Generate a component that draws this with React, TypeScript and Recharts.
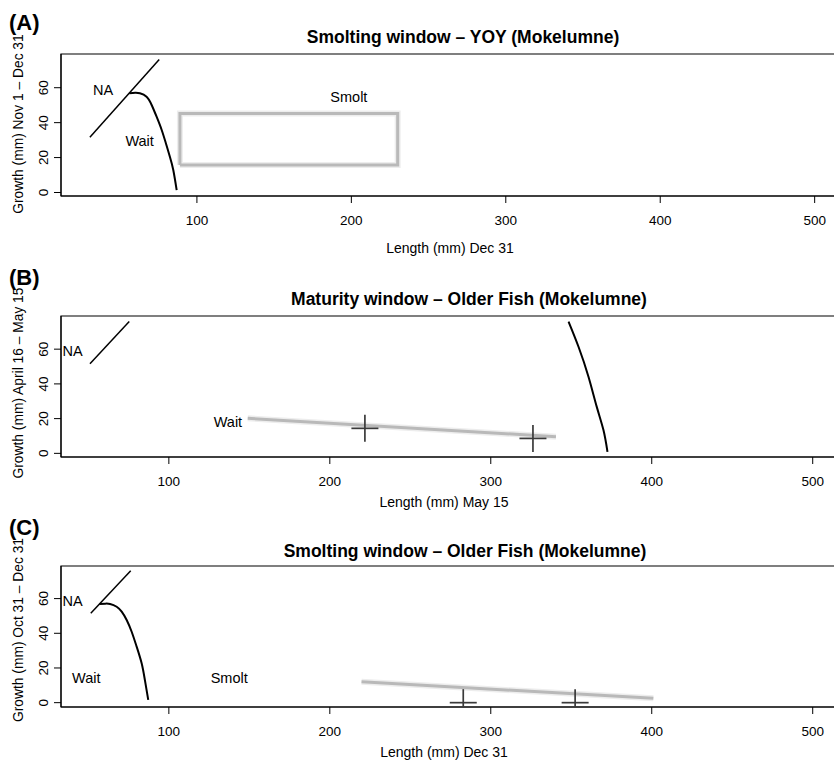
import { ComposedChart, Scatter, XAxis, YAxis, ReferenceArea } from 'recharts'

const FONT = '"Liberation Sans", Arial, Helvetica, sans-serif'

const xTicks = [100, 200, 300, 400, 500]
const yTicks = [0, 20, 40, 60]

// (A) Smolting window - YOY
const naLineA = [
  { x: 30.7, y: 31.6 },
  { x: 75.6, y: 76.2 },
]
const waitCurveA = [
  { x: 56.2, y: 56.8 },
  { x: 60, y: 57.1 },
  { x: 63.1, y: 56.8 },
  { x: 67.4, y: 54.8 },
  { x: 70.7, y: 50.1 },
  { x: 73.9, y: 43.4 },
  { x: 77.2, y: 35.8 },
  { x: 79.9, y: 28.2 },
  { x: 82.5, y: 20.5 },
  { x: 84.7, y: 12.9 },
  { x: 86.9, y: 1.4 },
]
const smoltBoxA = [
  { x: 89, y: 15.7 },
  { x: 230, y: 15.7 },
  { x: 230, y: 45.3 },
  { x: 89, y: 45.3 },
  { x: 89, y: 15.7 },
]
const labelsA = [
  { x: 39.2, y: 58.8, text: 'NA' },
  { x: 62.9, y: 29.5, text: 'Wait' },
  { x: 198.4, y: 54.4, text: 'Smolt' },
]

// (B) Maturity window - older fish
const naLineB = [
  { x: 51, y: 51.6 },
  { x: 75.4, y: 75.9 },
]
const maturityCurveB = [
  { x: 348.3, y: 75.9 },
  { x: 354.5, y: 61.4 },
  { x: 360.7, y: 44.1 },
  { x: 365.8, y: 26.9 },
  { x: 370, y: 13.4 },
  { x: 372.5, y: 0.9 },
]
const waitLineB = [
  { x: 149, y: 20.2 },
  { x: 340.5, y: 9.6 },
]
const crossesB = [
  { x: 221.8, y: 14.4 },
  { x: 326.2, y: 8.6 },
]
const labelsB = [
  { x: 40.2, y: 59.2, text: 'NA' },
  { x: 136.7, y: 18.2, text: 'Wait' },
]

// (C) Smolting window - older fish
const naLineC = [
  { x: 51.5, y: 51.5 },
  { x: 76.3, y: 76.1 },
]
const waitCurveC = [
  { x: 56.8, y: 56.9 },
  { x: 60.5, y: 57.1 },
  { x: 63.5, y: 56.9 },
  { x: 67.6, y: 55.3 },
  { x: 70.7, y: 52.5 },
  { x: 73.8, y: 47.7 },
  { x: 76.9, y: 40.9 },
  { x: 80, y: 32.3 },
  { x: 83.1, y: 22.7 },
  { x: 85.1, y: 13.1 },
  { x: 87.2, y: 1.6 },
]
const smoltLineC = [
  { x: 219.7, y: 12.1 },
  { x: 401, y: 2.5 },
]
const crossesC = [
  { x: 282.9, y: 0 },
  { x: 352.4, y: 0 },
]
const labelsC = [
  { x: 40.2, y: 58.9, text: 'NA' },
  { x: 48.7, y: 14.1, text: 'Wait' },
  { x: 137.5, y: 14.1, text: 'Smolt' },
]

const CHART_W = 900

const NoDot = () => <g />

const Cross = (p: any) => (
  <g stroke="#3a3a3a" strokeWidth={1.7}>
    <line x1={p.cx - 13.5} x2={p.cx + 13.5} y1={p.cy} y2={p.cy} />
    <line x1={p.cx} x2={p.cx} y1={p.cy - 13.5} y2={p.cy + 13.5} />
  </g>
)

const TextMark = (p: any) => (
  <text
    x={p.cx}
    y={p.cy}
    textAnchor="middle"
    dominantBaseline="central"
    fontFamily={FONT}
    fontSize={14.5}
    fill="#000"
  >
    {p.payload.text}
  </text>
)

const XTick = (p: any) => (
  <text x={p.x} y={p.y + 20} textAnchor="middle" fontFamily={FONT} fontSize={13.5} fill="#000">
    {p.payload.value}
  </text>
)

const YTick = (p: any) => (
  <text
    transform={`translate(${p.x - 4},${p.y}) rotate(-90)`}
    textAnchor="middle"
    fontFamily={FONT}
    fontSize={13.5}
    fill="#000"
  >
    {p.payload.value}
  </text>
)

type PanelProps = {
  top: number
  height: number
  marginTop: number
  marginBottom: number
  xDomain: [number, number]
  yDomain: [number, number]
  children: any
}

const Panel = ({ top, height, marginTop, marginBottom, xDomain, yDomain, children }: PanelProps) => (
  <div style={{ position: 'absolute', left: 0, top, width: CHART_W, height }}>
    <ComposedChart
      width={CHART_W}
      height={height}
      margin={{ top: marginTop, right: 39, bottom: marginBottom, left: 0 }}
    >
      <XAxis
        type="number"
        dataKey="x"
        domain={xDomain}
        ticks={xTicks}
        interval={0}
        allowDataOverflow
        height={40}
        tickSize={7}
        tick={<XTick />}
        axisLine={{ stroke: '#000' }}
        tickLine={{ stroke: '#000' }}
      />
      <YAxis
        type="number"
        dataKey="y"
        domain={yDomain}
        ticks={yTicks}
        interval={0}
        allowDataOverflow
        width={61}
        tickSize={7}
        tick={<YTick />}
        axisLine={{ stroke: '#000' }}
        tickLine={{ stroke: '#000' }}
      />
      <ReferenceArea
        x1={xDomain[0]}
        x2={xDomain[1]}
        y1={yDomain[0]}
        y2={yDomain[1]}
        fill="none"
        stroke="#000"
        strokeWidth={1.2}
        ifOverflow="visible"
      />
      {children}
    </ComposedChart>
  </div>
)

const blackLine = (w: number) => ({ stroke: '#000', strokeWidth: w })
const grayHalo = { stroke: '#ededed', strokeWidth: 6 }
const grayLine = { stroke: '#b9b9b9', strokeWidth: 3 }

const PageText = () => (
  <svg
    width={834}
    height={767}
    style={{ position: 'absolute', left: 0, top: 0, pointerEvents: 'none' }}
    fontFamily={FONT}
  >
    <text x={9} y={30} fontSize={22} fontWeight="bold">(A)</text>
    <text x={463} y={43} fontSize={17.5} fontWeight="bold" textAnchor="middle">
      Smolting window – YOY (Mokelumne)
    </text>
    <text x={450} y={253} fontSize={14} textAnchor="middle">Length (mm) Dec 31</text>
    <text transform="translate(22.5,124) rotate(-90)" fontSize={13.8} textAnchor="middle">
      Growth (mm) Nov 1 – Dec 31
    </text>

    <text x={9} y={285} fontSize={22} fontWeight="bold">(B)</text>
    <text x={469} y={305} fontSize={17.5} fontWeight="bold" textAnchor="middle">
      Maturity window – Older Fish (Mokelumne)
    </text>
    <text x={444} y={507} fontSize={14} textAnchor="middle">Length (mm) May 15</text>
    <text transform="translate(22.5,383) rotate(-90)" fontSize={13.8} textAnchor="middle">
      Growth (mm) April 16 – May 15
    </text>

    <text x={9} y={535} fontSize={22} fontWeight="bold">(C)</text>
    <text x={465} y={557} fontSize={17.5} fontWeight="bold" textAnchor="middle">
      Smolting window – Older Fish (Mokelumne)
    </text>
    <text x={444} y={757} fontSize={14} textAnchor="middle">Length (mm) Dec 31</text>
    <text transform="translate(22.5,630) rotate(-90)" fontSize={13.8} textAnchor="middle">
      Growth (mm) Oct 31 – Dec 31
    </text>
  </svg>
)

export default function App() {
  return (
    <div
      style={{
        position: 'absolute',
        left: 0,
        top: 0,
        width: 834,
        height: 767,
        overflow: 'hidden',
        background: '#fff',
      }}
    >
      <Panel top={0} height={260} marginTop={54} marginBottom={24} xDomain={[12, 530]} yDomain={[-2, 79.3]}>
        <Scatter data={smoltBoxA} line={grayHalo} shape={NoDot} isAnimationActive={false} />
        <Scatter data={smoltBoxA} line={grayLine} shape={NoDot} isAnimationActive={false} />
        <Scatter data={naLineA} line={blackLine(1.5)} shape={NoDot} isAnimationActive={false} />
        <Scatter data={waitCurveA} line={blackLine(2)} lineJointType="natural" shape={NoDot} isAnimationActive={false} />
        <Scatter data={labelsA} shape={TextMark} isAnimationActive={false} />
      </Panel>

      <Panel top={260} height={245} marginTop={56} marginBottom={8} xDomain={[33, 530]} yDomain={[-2.1, 79.1]}>
        <Scatter data={waitLineB} line={grayHalo} shape={NoDot} isAnimationActive={false} />
        <Scatter data={waitLineB} line={grayLine} shape={NoDot} isAnimationActive={false} />
        <Scatter data={crossesB} shape={Cross} isAnimationActive={false} />
        <Scatter data={naLineB} line={blackLine(1.5)} shape={NoDot} isAnimationActive={false} />
        <Scatter data={maturityCurveB} line={blackLine(2)} lineJointType="natural" shape={NoDot} isAnimationActive={false} />
        <Scatter data={labelsB} shape={TextMark} isAnimationActive={false} />
      </Panel>

      <Panel top={505} height={262} marginTop={61} marginBottom={20} xDomain={[33, 530]} yDomain={[-2.5, 78.8]}>
        <Scatter data={smoltLineC} line={grayHalo} shape={NoDot} isAnimationActive={false} />
        <Scatter data={smoltLineC} line={grayLine} shape={NoDot} isAnimationActive={false} />
        <Scatter data={crossesC} shape={Cross} isAnimationActive={false} />
        <Scatter data={naLineC} line={blackLine(1.5)} shape={NoDot} isAnimationActive={false} />
        <Scatter data={waitCurveC} line={blackLine(2)} lineJointType="natural" shape={NoDot} isAnimationActive={false} />
        <Scatter data={labelsC} shape={TextMark} isAnimationActive={false} />
      </Panel>

      <PageText />
    </div>
  )
}
